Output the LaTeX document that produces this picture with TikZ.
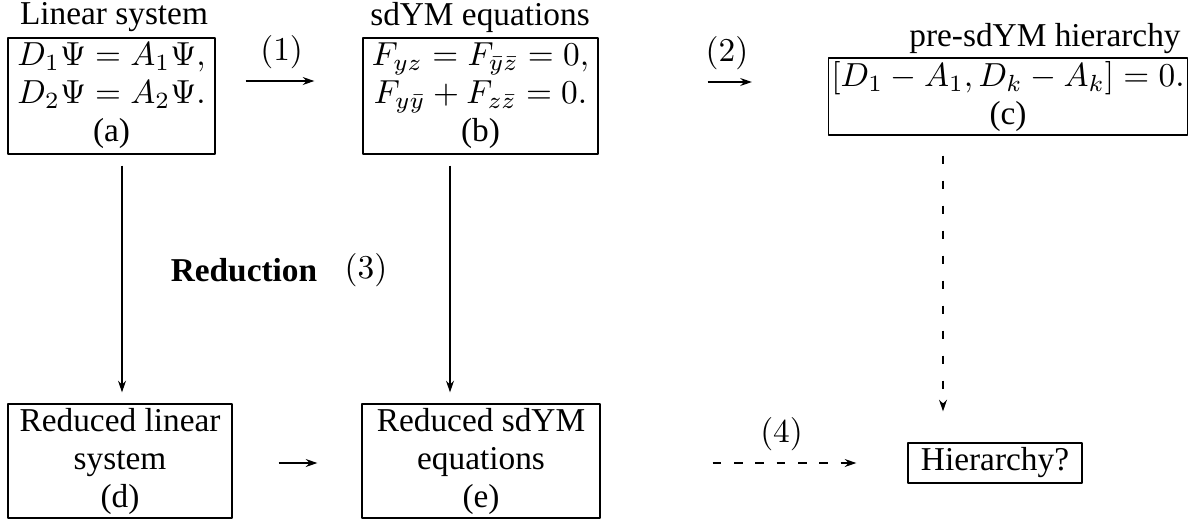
\documentclass[tikz,border=0pt]{standalone}
\usepackage[no-math]{fontspec}
\setmainfont{Liberation Serif}
\usetikzlibrary{arrows.meta}
\begin{document}
\begin{tikzpicture}[x=0.3pt,y=-0.3pt,>={Stealth[length=3.5pt,width=2.4pt]},line join=round,
    font=\fontsize{10}{11.4}\selectfont,
    box/.style={draw,thin,inner sep=0pt,align=center},
    dashv/.style={dash pattern=on 2.4pt off 5.1pt},
    dashh/.style={dash pattern=on 2.6pt off 3.8pt}]
  \useasboundingbox (0,0) rectangle (1189,520);
  % top row
  \node[box,minimum width=62.1pt,minimum height=34.8pt] (a) at (111.5,96)
    {$D_1\Psi = A_1\Psi,$\\ $D_2\Psi = A_2\Psi.$\\ (a)};
  \node[box,minimum width=70.5pt,minimum height=34.8pt] (b) at (480.5,96)
    {$F_{yz} = F_{\bar y\bar z} = 0,$\\ $F_{y\bar y} + F_{z\bar z} = 0.$\\ (b)};
  \node[box,minimum width=107.7pt,minimum height=23.1pt] (c) at (1008,96.5)
    {$[D_1 - A_1, D_k - A_k] = 0.$\\ (c)};
  \node (la) at (114,17) {Linear system};
  \node (lb) at (480,17) {sdYM equations};
  \node (lc) at (1045,39) {pre-sdYM hierarchy};
  % bottom row
  \node[box,minimum width=67.2pt,minimum height=34.2pt] (d) at (120,461)
    {Reduced linear\\ system\\ (d)};
  \node[box,minimum width=71.4pt,minimum height=34.2pt] (e) at (481,461)
    {Reduced sdYM\\ equations\\ (e)};
  \node[box,minimum width=52.2pt,minimum height=12pt] (h) at (995,463) {Hierarchy?};
  \node (red) at (244,270) {\textbf{Reduction}};
  \node (n3) at (366,270) {$(3)$};
  % arrows
  \draw[->,shorten <=9pt,shorten >=14.4pt] ([yshift=4.5pt]a.east) -- ([yshift=4.5pt]a.east -| b.west)
    node[pos=0.45,above] {$(1)$};
  \draw[->,shorten <=32.7pt,shorten >=22.8pt] ([yshift=4.2pt]b.east) -- ([yshift=4.2pt]b.east -| c.west)
    node[pos=0.56,above] {$(2)$};
  \draw[->,shorten <=3.3pt,shorten >=3.3pt] ([xshift=0.6pt]d.north |- a.south) -- ([xshift=0.6pt]d.north);
  \draw[->,shorten <=3.3pt,shorten >=3.3pt] ([xshift=-9.3pt]e.north |- b.south) -- ([xshift=-9.3pt]e.north);
  \draw[->,shorten <=13.8pt,shorten >=13.2pt] ([yshift=-0.6pt]d.east) -- ([yshift=-0.6pt]d.east -| e.west);
  \draw[->,dashv,shorten <=6pt,shorten >=9.3pt] ([xshift=-15.6pt]h.north |- c.south) -- ([xshift=-15.6pt]h.north);
  \draw[->,dashh,shorten <=33.6pt,shorten >=15.3pt] (e.east |- h.west) -- (h.west)
    node[pos=0.59,above] {$(4)$};
\end{tikzpicture}
\end{document}
